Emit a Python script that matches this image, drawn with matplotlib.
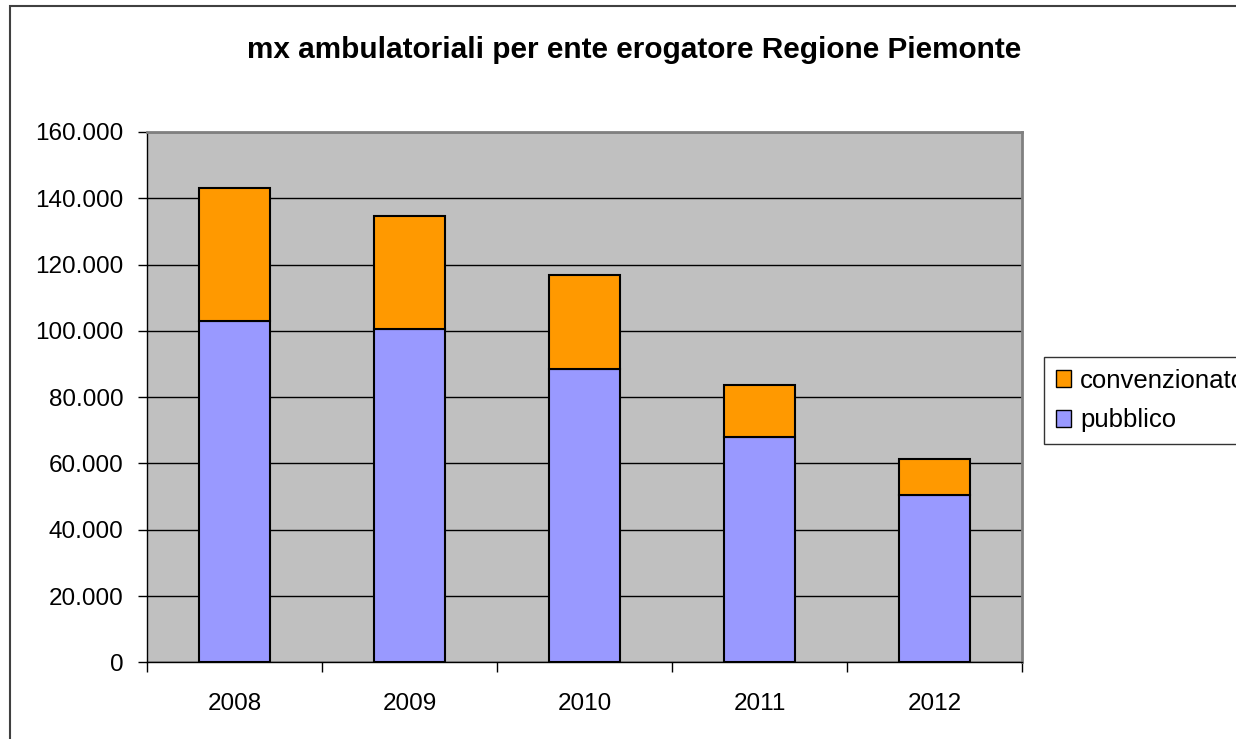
import matplotlib
matplotlib.use("Agg")
import matplotlib.pyplot as plt
from matplotlib.patches import Rectangle, Patch
import numpy as np

plt.rcParams['font.family'] = ['Liberation Sans', 'DejaVu Sans']

years = ["2008", "2009", "2010", "2011", "2012"]
pubblico = [102900, 100450, 88400, 67950, 50450]
convenzionato_tot = [143100, 134650, 116750, 83550, 61250]
convenzionato = [t - p for t, p in zip(convenzionato_tot, pubblico)]
yticks = [0, 20000, 40000, 60000, 80000, 100000, 120000, 140000, 160000]
ytick_labels = ["0", "20.000", "40.000", "60.000", "80.000", "100.000", "120.000", "140.000", "160.000"]
title = "mx ambulatoriali per ente erogatore Regione Piemonte"

W, H = 1236, 739
fig = plt.figure(figsize=(W / 100, H / 100), dpi=100)
fig.patch.set_facecolor("white")

# outer frame
fig.add_artist(Rectangle((10 / W, -0.1), 1.2, 1 - 6 / H + 0.1, transform=fig.transFigure,
                         fill=False, edgecolor="#404040", linewidth=1.5))

ax = fig.add_axes([147 / W, 1 - 662.3 / H, (1022 - 147) / W, (662.3 - 132) / H])
ax.set_facecolor("#C0C0C0")

x = np.arange(len(years))
bw = 0.41
ax.bar(x, pubblico, width=bw, color="#9999FF", edgecolor="black", linewidth=1.5, zorder=3, label="pubblico")
ax.bar(x, convenzionato, width=bw, bottom=pubblico, color="#FF9900", edgecolor="black", linewidth=1.5,
       zorder=3, label="convenzionato")

ax.set_xlim(-0.5, len(years) - 0.5)
ax.set_ylim(0, 160000)
ax.set_yticks(yticks)
ax.set_yticklabels(ytick_labels, fontsize=17.5)
ax.yaxis.grid(True, color="black", linewidth=1.0, zorder=1)
ax.set_axisbelow(True)

ax.set_xticks(np.arange(-0.5, len(years), 1.0))
ax.set_xticklabels([])
ax.set_xticks(x, minor=True)
ax.set_xticklabels(years, minor=True, fontsize=17.5)
ax.tick_params(axis="x", which="minor", length=0, pad=22)
ax.tick_params(axis="x", which="major", length=7, width=1, direction="out", color="black")
ax.tick_params(axis="y", length=6.5, width=1, direction="out", pad=10.5)

for s in ["left", "bottom"]:
    ax.spines[s].set_color("black")
    ax.spines[s].set_linewidth(1.0)
for s in ["top", "right"]:
    ax.spines[s].set_color("#808080")
    ax.spines[s].set_linewidth(2.0)

fig.text(0.5 * (248 + 1020) / W, 1 - 50 / H, title, ha="center", va="center", fontsize=21.4, fontweight="bold")

handles = [Patch(facecolor="#FF9900", edgecolor="black", label="convenzionato"),
           Patch(facecolor="#9999FF", edgecolor="black", label="pubblico")]
leg = fig.legend(handles=handles, loc="upper left", bbox_to_anchor=(1044 / W, 1 - 357 / H),
                 bbox_transform=fig.transFigure, frameon=True, fancybox=False, fontsize=18.5,
                 handlelength=0.6, handleheight=0.6, handletextpad=0.35, borderpad=0.45,
                 labelspacing=0.62, borderaxespad=0)
leg.get_frame().set_edgecolor("black")
leg.get_frame().set_linewidth(1.0)

fig.savefig("out.png", dpi=100)
